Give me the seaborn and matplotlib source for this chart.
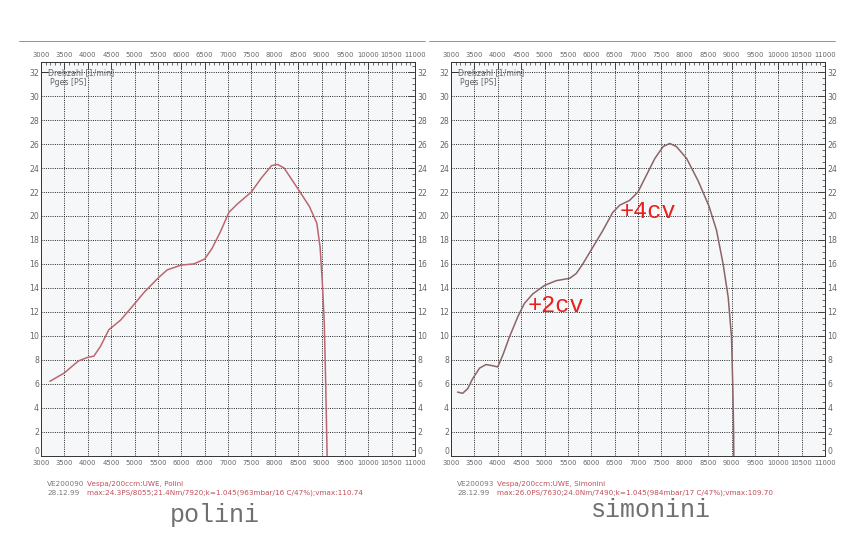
"""Dyno power curves, Polini vs Simonini (Vespa 200)."""

import matplotlib
matplotlib.use("Agg")
import matplotlib.pyplot as plt
import pandas as pd
import seaborn as sns
from matplotlib.ticker import MultipleLocator

# Polini run: rpm / power [PS]
polini_rpm = [3190, 3500, 3800, 4000, 4130, 4270, 4450, 4700, 4900, 5200, 5500, 5700,
              6000, 6270, 6500, 6660, 6840, 7020, 7200, 7500, 7700, 7930, 8060, 8200,
              8490, 8740, 8900, 8970, 9020, 9060, 9090, 9110, 9120]
polini_ps = [6.2, 6.9, 7.9, 8.2, 8.3, 9.1, 10.5, 11.3, 12.2, 13.6, 14.8, 15.5,
             15.9, 16.0, 16.4, 17.3, 18.7, 20.3, 21.0, 22.0, 23.1, 24.2, 24.3, 24.0,
             22.3, 20.8, 19.4, 17.4, 14.3, 11.0, 6.0, 2.0, 0.0]

# Simonini run: rpm / power [PS]
simonini_rpm = [3140, 3250, 3360, 3460, 3610, 3750, 3890, 4000, 4110, 4250, 4430, 4570,
                4750, 5000, 5250, 5540, 5680, 5820, 6020, 6250, 6460, 6610, 6820, 7000,
                7180, 7360, 7540, 7680, 7820, 8040, 8290, 8520, 8680, 8820, 8930, 9000,
                9030, 9045, 9050]
simonini_ps = [5.3, 5.2, 5.6, 6.4, 7.3, 7.6, 7.5, 7.4, 8.4, 9.9, 11.6, 12.7,
               13.5, 14.2, 14.6, 14.8, 15.2, 16.0, 17.3, 18.8, 20.3, 20.9, 21.3, 22.0,
               23.4, 24.8, 25.8, 26.05, 25.8, 24.8, 22.9, 20.8, 18.8, 16.0, 13.2, 9.9,
               5.4, 2.0, 0.0]

x_ticks = list(range(3000, 11001, 500))
x_labels = [str(t) for t in x_ticks]
y_ticks = list(range(0, 33, 2))

panels = [
    dict(name="polini", rpm=polini_rpm, ps=polini_ps, color="#bd6670",
         code="VE200090", line1="Vespa/200ccm:UWE, Polini",
         line2="max:24.3PS/8055;21.4Nm/7920;k=1.045(963mbar/16 C/47%);vmax:110.74"),
    dict(name="simonini", rpm=simonini_rpm, ps=simonini_ps, color="#8c6468",
         code="VE200093", line1="Vespa/200ccm:UWE, Simonini",
         line2="max:26.0PS/7630;24.0Nm/7490;k=1.045(984mbar/17 C/47%);vmax:109.70"),
]

sns.set_style("white")
plt.rcParams["font.family"] = ["DejaVu Sans"]
small = 5.6

fig = plt.figure(figsize=(8.61, 5.37), dpi=100)
W, H = 861, 537
lefts = [41, 451]
ax_w, ax_top, ax_bot = 374, 62, 455.6

for p, left in zip(panels, lefts):
    ax = fig.add_axes([left / W, 1 - ax_bot / H, ax_w / W, (ax_bot - ax_top) / H])
    ax.set_facecolor("#f6f7f9")
    df = pd.DataFrame({"rpm": p["rpm"], "ps": p["ps"]})
    sns.lineplot(data=df, x="rpm", y="ps", ax=ax, color=p["color"], lw=1.1,
                 sort=False, estimator=None)
    ax.set_xlim(3000, 11000)
    ax.set_ylim(0, 32.85)
    ax.set_xlabel("")
    ax.set_ylabel("")
    ax.set_xticks(x_ticks)
    ax.set_xticklabels(x_labels)
    ax.set_yticks(y_ticks)
    ax.xaxis.set_minor_locator(MultipleLocator(100))
    ax.yaxis.set_minor_locator(MultipleLocator(0.5))
    ax.tick_params(which="both", direction="in", top=True, right=True,
                   labeltop=True, labelright=True, colors="#333333",
                   labelcolor="#666666", labelsize=small)
    ax.tick_params(axis="x", which="major", labelsize=4.9, pad=3)
    ax.tick_params(which="major", length=5, width=0.6)
    ax.tick_params(which="minor", length=2.5, width=0.5)
    ax.tick_params(axis="y", which="major", pad=1.5)
    ax.grid(True, which="major", color="#222222", ls=(0, (1, 1.3)), lw=0.7)
    for s in ax.spines.values():
        s.set_color("#333333")
        s.set_linewidth(0.7)

    # the "0" labels sit just above the corner like on the printout
    for t in ax.yaxis.get_major_ticks()[:1]:
        t.label1.set_va("bottom")
        t.label2.set_va("bottom")

    # legend of the printout
    ax.plot([3000, 3150], [32, 32], color="#333333", lw=0.7, solid_capstyle="butt")
    ax.text(3160, 32, "Drehzahl [1/min]", fontsize=small, color="#666666",
            va="center", ha="left")
    ax.text(3200, 31.1, "Pges [PS]", fontsize=small, color="#666666",
            va="center", ha="left")

    fx = (left + 6) / W
    fs = 5.2
    fig.text(fx, 1 - 484 / H, p["code"], fontsize=fs, color="#777777", va="center")
    fig.text(fx + 40 / W, 1 - 484 / H, p["line1"], fontsize=fs, color="#c0505a", va="center")
    fig.text(fx, 1 - 493 / H, "28.12.99", fontsize=fs, color="#777777", va="center")
    fig.text(fx + 40 / W, 1 - 493 / H, p["line2"], fontsize=fs, color="#c0505a", va="center")

    # scan top rule
    fig.add_artist(plt.Line2D([(left - 22) / W, (left + ax_w + 10) / W],
                              [1 - 41 / H, 1 - 41 / H], color="#666666", lw=0.5))

fig.text(215 / W, 1 - 515 / H, "polini", family="Liberation Mono", fontsize=18,
         color="#707070", ha="center", va="center")
fig.text(651 / W, 1 - 510 / H, "simonini", family="Liberation Mono", fontsize=18,
         color="#707070", ha="center", va="center")
fig.text(556 / W, 1 - 305 / H, "+2cv", family="Liberation Mono", fontsize=17,
         color="#e8201c", ha="center", va="center")
fig.text(648 / W, 1 - 212 / H, "+4cv", family="Liberation Mono", fontsize=17,
         color="#e8201c", ha="center", va="center")

plt.savefig("out.png", dpi=100)
